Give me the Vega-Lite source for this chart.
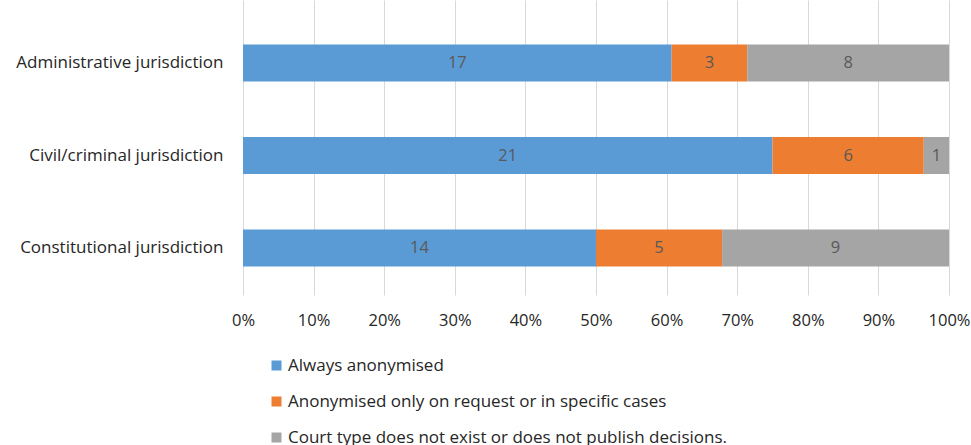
{
  "$schema": "https://vega.github.io/schema/vega-lite/v6.json",
  "autosize": "none",
  "width": 706,
  "height": 295,
  "padding": {"left": 243, "top": 0, "right": 22, "bottom": 150},
  "background": "white",
  "config": {
    "font": "Open Sans",
    "view": {"stroke": null}
  },
  "data": {
    "values": [
      {"jurisdiction": "Administrative jurisdiction", "category": "Always anonymised", "count": 17},
      {"jurisdiction": "Administrative jurisdiction", "category": "Anonymised only on request or in specific cases", "count": 3},
      {"jurisdiction": "Administrative jurisdiction", "category": "Court type does not exist or does not publish decisions.", "count": 8},
      {"jurisdiction": "Civil/criminal jurisdiction", "category": "Always anonymised", "count": 21},
      {"jurisdiction": "Civil/criminal jurisdiction", "category": "Anonymised only on request or in specific cases", "count": 6},
      {"jurisdiction": "Civil/criminal jurisdiction", "category": "Court type does not exist or does not publish decisions.", "count": 1},
      {"jurisdiction": "Constitutional jurisdiction", "category": "Always anonymised", "count": 14},
      {"jurisdiction": "Constitutional jurisdiction", "category": "Anonymised only on request or in specific cases", "count": 5},
      {"jurisdiction": "Constitutional jurisdiction", "category": "Court type does not exist or does not publish decisions.", "count": 9}
    ]
  },
  "transform": [
    {"stack": "count", "groupby": ["jurisdiction"], "sort": [{"field": "category", "order": "ascending"}], "offset": "normalize", "as": ["x0", "x1"]},
    {"calculate": "(datum.x0 + datum.x1) / 2", "as": "xmid"}
  ],
  "encoding": {
    "y": {
      "field": "jurisdiction",
      "type": "nominal",
      "sort": "ascending",
      "scale": {"paddingInner": 0.6, "paddingOuter": 0.395, "align": 0.61},
      "axis": {
        "title": null,
        "domain": false,
        "ticks": false,
        "labelFontSize": 17,
        "labelColor": "#262626",
        "labelPadding": 20,
        "labelLimit": 300
      }
    }
  },
  "layer": [
    {
      "mark": {"type": "bar"},
      "encoding": {
        "x": {
          "field": "x0",
          "type": "quantitative",
          "scale": {"domain": [0, 1], "nice": false},
          "axis": {
            "title": null,
            "format": ".0%",
            "values": [0, 0.1, 0.2, 0.3, 0.4, 0.5, 0.6, 0.7, 0.8, 0.9, 1],
            "domain": false,
            "ticks": false,
            "grid": true,
            "gridColor": "#D9D9D9",
            "gridWidth": 1,
            "labelFontSize": 16.5,
            "labelColor": "#262626",
            "labelPadding": 17,
            "labelFlush": false,
            "labelOverlap": false
          }
        },
        "x2": {"field": "x1"},
        "color": {
          "field": "category",
          "type": "nominal",
          "scale": {
            "domain": ["Always anonymised", "Anonymised only on request or in specific cases", "Court type does not exist or does not publish decisions."],
            "range": ["#5B9BD5", "#ED7D31", "#A5A5A5"]
          },
          "legend": {
            "title": null,
            "orient": "none",
            "direction": "vertical",
            "legendX": 25,
            "legendY": 357,
            "symbolType": "square",
            "symbolSize": 100,
            "symbolStrokeWidth": 0,
            "labelFontSize": 17,
            "labelColor": "#262626",
            "labelOffset": 3,
            "labelLimit": 700,
            "rowPadding": 18,
            "padding": 0
          }
        }
      }
    },
    {
      "mark": {"type": "text", "fontSize": 16.5, "color": "#595959"},
      "encoding": {
        "x": {"field": "xmid", "type": "quantitative"},
        "text": {"field": "count", "type": "quantitative"}
      }
    }
  ]
}
